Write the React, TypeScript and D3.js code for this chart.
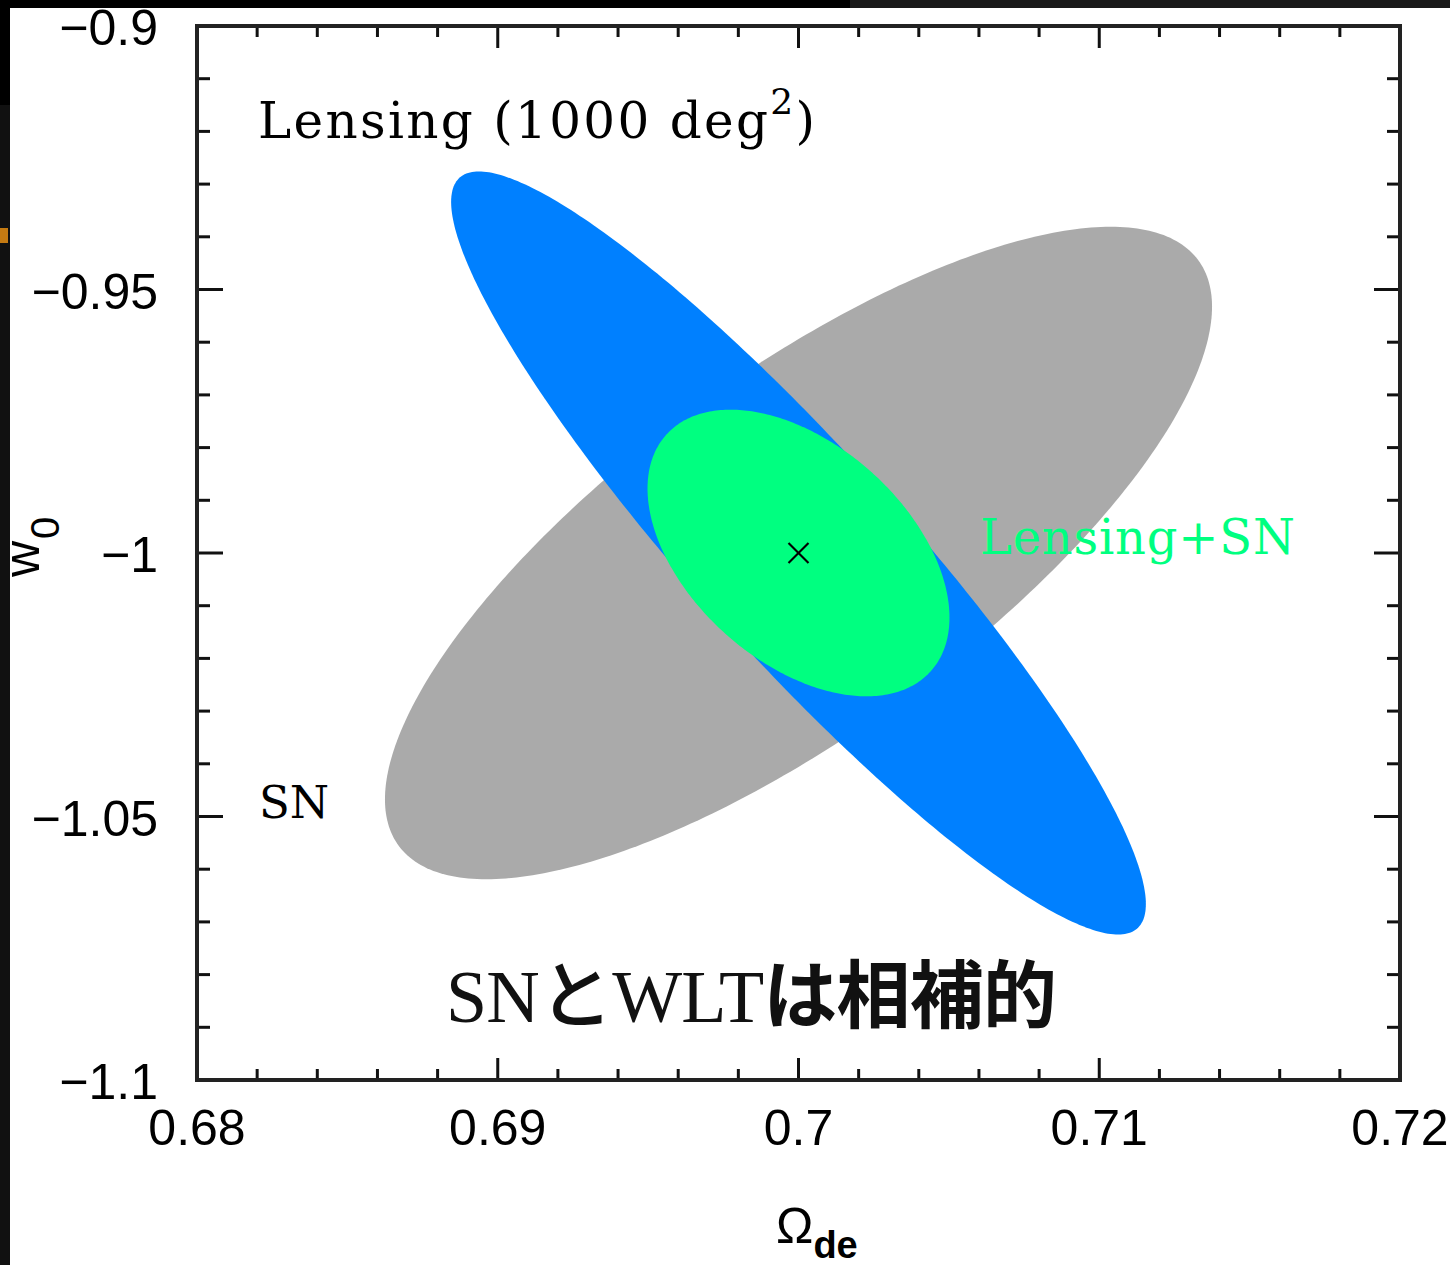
import * as d3 from "d3";
import React from "react";

// Fisher-ellipse parameters (centre, 1-sigma widths, correlation)
const ellipseNames = ["SN", "Lensing", "Lensing+SN"];
const centerOmega = [0.7, 0.7, 0.7];
const centerW0 = [-1.0, -1.0, -1.0];
const sigmaOmega = [0.01375, 0.01155, 0.00502];
const sigmaW0 = [0.0619, 0.0724, 0.0272];
const rhos = [0.755, -0.92, -0.45];

const fiducial = [0.7, -1.0];

const xTicks = [0.68, 0.69, 0.7, 0.71, 0.72];
const xTickLabels = ["0.68", "0.69", "0.7", "0.71", "0.72"];
const yTicks = [-0.9, -0.95, -1.0, -1.05, -1.1];
const yTickLabels = ["\u22120.9", "\u22120.95", "\u22121", "\u22121.05", "\u22121.1"];

const colors: Record<string, string> = {
  SN: "#aaaaaa",
  Lensing: "#0080ff",
  "Lensing+SN": "#00ff80",
};

const W = 1450;
const H = 1265;
const sansFont = "'Liberation Sans', Arial, Helvetica, sans-serif";
const serifFont = "'DejaVu Serif', serif";

export default function App() {
  const x = d3.scaleLinear().domain([0.68, 0.72]).range([197, 1400]);
  const y = d3.scaleLinear().domain([-1.1, -0.9]).range([1080, 26]);
  const [x0, x1] = x.range();
  const [y0, y1] = y.range();

  const line = d3
    .line<[number, number]>()
    .x((d) => x(d[0]))
    .y((d) => y(d[1]))
    .curve(d3.curveLinearClosed);

  const ellipsePath = (i: number) => {
    const r = rhos[i];
    const pts: [number, number][] = d3.range(0, 360, 1).map((deg) => {
      const t = (deg * Math.PI) / 180;
      return [
        centerOmega[i] + sigmaOmega[i] * Math.cos(t),
        centerW0[i] + sigmaW0[i] * (r * Math.cos(t) + Math.sqrt(1 - r * r) * Math.sin(t)),
      ];
    });
    return line(pts) || "";
  };

  const xMinor = x.ticks(20);
  const yMinor = y.ticks(20);
  const isMajor = (v: number, majors: number[]) => majors.some((m) => Math.abs(m - v) < 1e-9);

  const fx = x(fiducial[0]);
  const fy = y(fiducial[1]);

  return (
    <svg
      width={W}
      height={H}
      style={{ position: "absolute", left: 0, top: 0, display: "block", background: "#fff" }}
    >
      {/* dark page edges */}
      <rect x={0} y={0} width={850} height={8} fill="#000" />
      <rect x={850} y={0} width={W - 850} height={8} fill="#1a1a1a" />
      <rect x={0} y={0} width={10} height={H} fill="#111" />
      <rect x={0} y={0} width={10} height={105} fill="#000" />
      <rect x={0} y={228} width={8} height={15} fill="#c47a12" />

      {/* ellipses */}
      {ellipseNames.map((n, i) => (
        <path key={n} d={ellipsePath(i)} fill={colors[n]} />
      ))}

      {/* fiducial marker */}
      <g stroke="#000" strokeWidth={2.2}>
        <line x1={fx - 10} y1={fy - 10} x2={fx + 10} y2={fy + 10} />
        <line x1={fx - 10} y1={fy + 10} x2={fx + 10} y2={fy - 10} />
      </g>

      {/* ticks on all four sides */}
      <g stroke="#111" strokeWidth={3}>
        {xMinor.map((v) => {
          const len = isMajor(v, xTicks) ? 22 : 11;
          return (
            <g key={"xt" + v}>
              <line x1={x(v)} x2={x(v)} y1={y0} y2={y0 - len} />
              <line x1={x(v)} x2={x(v)} y1={y1} y2={y1 + len} />
            </g>
          );
        })}
        {yMinor.map((v) => {
          const len = isMajor(v, yTicks) ? 26 : 13;
          return (
            <g key={"yt" + v}>
              <line x1={x0} x2={x0 + len} y1={y(v)} y2={y(v)} />
              <line x1={x1} x2={x1 - len} y1={y(v)} y2={y(v)} />
            </g>
          );
        })}
      </g>

      {/* frame */}
      <rect
        x={x0}
        y={y1}
        width={x1 - x0}
        height={y0 - y1}
        fill="none"
        stroke="#222"
        strokeWidth={4}
      />

      {/* tick labels */}
      <g fontFamily={sansFont} fontSize={50} fill="#000">
        {xTicks.map((v, i) => (
          <text key={"xl" + v} x={x(v)} y={1145} textAnchor="middle">
            {xTickLabels[i]}
          </text>
        ))}
        {yTicks.map((v, i) => (
          <text key={"yl" + v} x={158} y={y(v) + 19} textAnchor="end">
            {yTickLabels[i]}
          </text>
        ))}
      </g>

      {/* axis titles */}
      <text x={776} y={1243} fontFamily={sansFont} fontSize={50} fill="#000">
        {"\u03a9"}
        <tspan fontSize={38} fontWeight="bold" dy={15}>
          de
        </tspan>
      </text>
      <text
        transform="translate(39,577) rotate(-90)"
        fontFamily={sansFont}
        fontSize={50}
        fill="#000"
      >
        w
        <tspan fontSize={40} dy={20} dx={2}>
          0
        </tspan>
      </text>

      {/* annotations */}
      <text x={258} y={138} fontFamily={serifFont} fontSize={50} fill="#000" textLength={557}>
        Lensing (1000 deg
        <tspan fontSize={36} dy={-24}>
          2
        </tspan>
        <tspan dy={24}>)</tspan>
      </text>
      <text x={259} y={818} fontFamily={serifFont} fontSize={45} fill="#000">
        SN
      </text>
      <text x={980} y={554} fontFamily={serifFont} fontSize={48} fill={colors["Lensing+SN"]} textLength={315}>
        Lensing+SN
      </text>
      <text x={446} y={1022} fontSize={74} fill="#111" textLength={611}>
        <tspan fontFamily="'Liberation Serif', 'Times New Roman', serif">SN</tspan>
        <tspan fontFamily="'Noto Sans CJK JP', sans-serif" fontWeight={500}>
          と
        </tspan>
        <tspan fontFamily="'Liberation Serif', 'Times New Roman', serif">WLT</tspan>
        <tspan fontFamily="'Noto Sans CJK JP', sans-serif" fontWeight="bold">
          は相補的
        </tspan>
      </text>
    </svg>
  );
}
